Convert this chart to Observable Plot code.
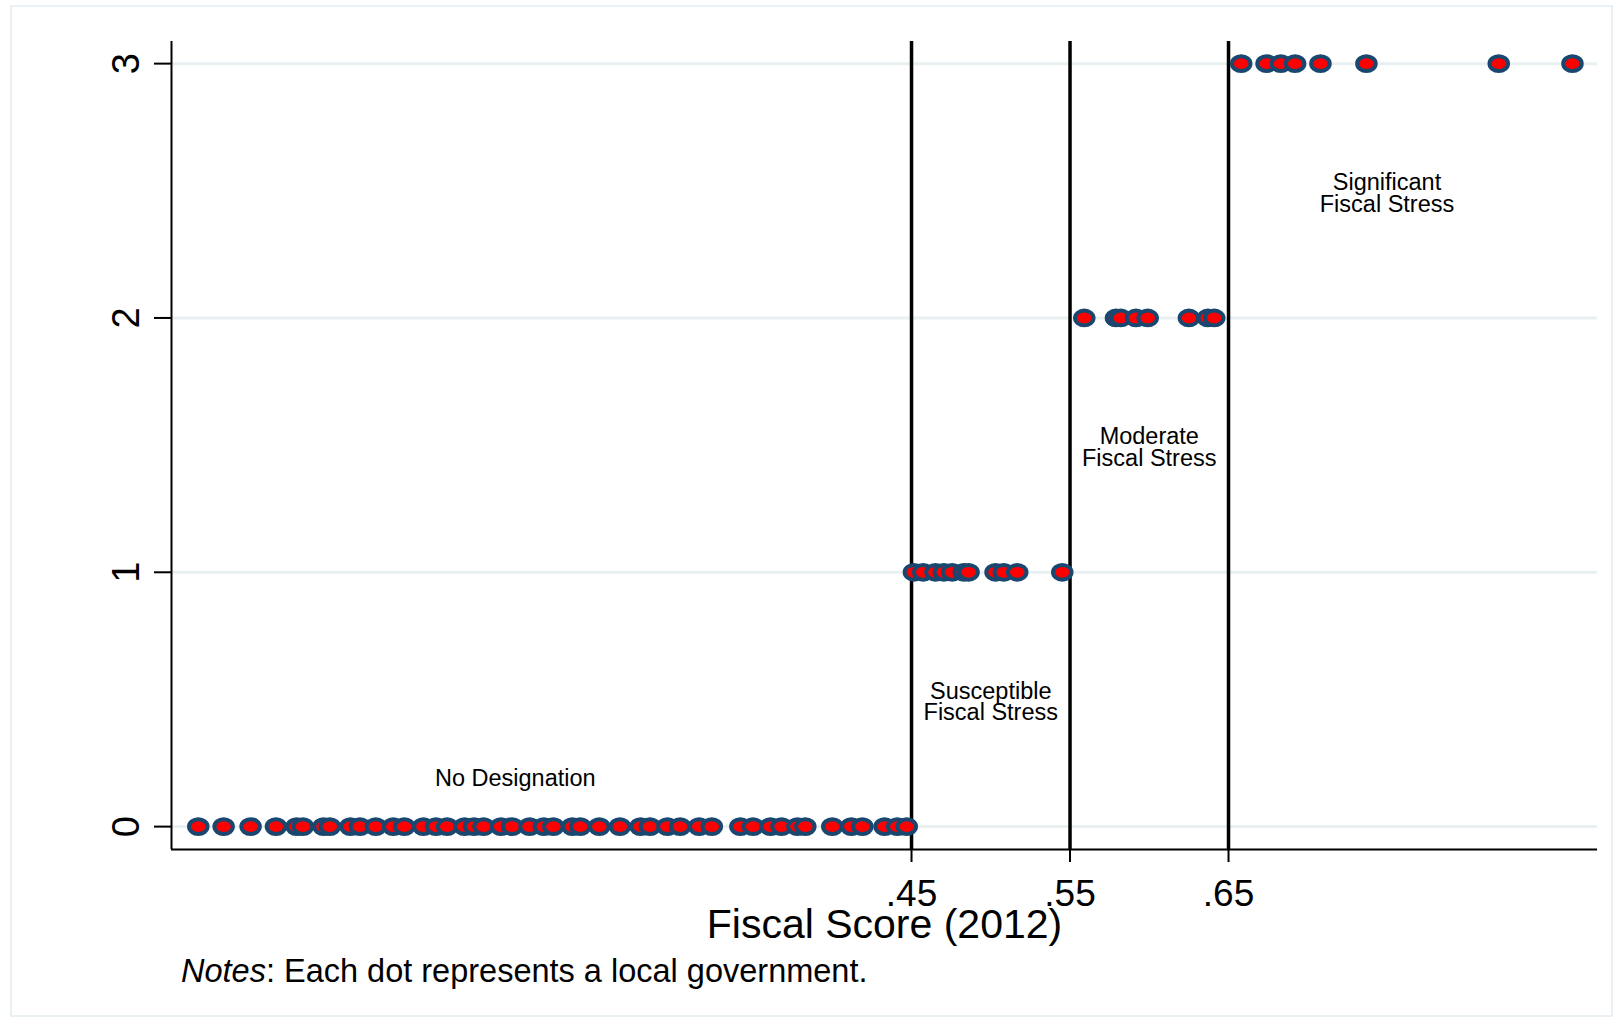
<!DOCTYPE html>
<html>
<head>
<meta charset="utf-8">
<script src="https://cdn.jsdelivr.net/npm/d3@7"></script>
<script src="https://cdn.jsdelivr.net/npm/@observablehq/plot@0.6"></script>
<style>
  body { margin: 0; background: #fff; }
  #page { position: relative; width: 1619px; height: 1021px; font-family: "Liberation Sans", Arial, sans-serif; color: #000; }
  #border { position: absolute; left: 10px; top: 5px; width: 1603px; height: 1012px; border: 2px solid #eaf1f4; box-sizing: border-box; }
  #chart { position: absolute; left: 0; top: 0; }
  #notes { position: absolute; left: 181px; top: 955px; font-size: 32.5px; line-height: 1; white-space: nowrap; }
</style>
</head>
<body>
<div id="page">
  <div id="border"></div>
  <div id="chart"></div>
  <div id="notes"></div>
</div>
<script>
// Fiscal scores (2012) of local governments, grouped by stress designation level
const noDesignationScores = [
  0.000, 0.016, 0.033, 0.049, 0.062, 0.066, 0.079, 0.083, 0.096, 0.102,
  0.112, 0.123, 0.130, 0.142, 0.150, 0.157, 0.168, 0.174, 0.180, 0.191,
  0.198, 0.209, 0.218, 0.224, 0.236, 0.241, 0.253, 0.266, 0.279, 0.285,
  0.296, 0.304, 0.316, 0.324, 0.342, 0.350, 0.361, 0.368, 0.378, 0.383,
  0.400, 0.412, 0.419, 0.433, 0.441, 0.447
];
const susceptibleScores = [0.4515, 0.4574, 0.4651, 0.4704, 0.4757, 0.483, 0.486, 0.503, 0.5082, 0.5167, 0.5451];
const moderateScores = [0.559, 0.579, 0.582, 0.5916, 0.599, 0.625, 0.637, 0.641];
const significantScores = [0.658, 0.674, 0.683, 0.692, 0.708, 0.737, 0.8205, 0.867];

const designationLevels = [0, 1, 2, 3];
const thresholds = [0.45, 0.55, 0.65];
const xTickLabels = [".45", ".55", ".65"];

const zoneLabels = ["No Designation", "Susceptible\nFiscal Stress", "Moderate\nFiscal Stress", "Significant\nFiscal Stress"];
const zoneLabelX = [0.20, 0.50, 0.60, 0.75];
const zoneLabelY = [0.2, 0.5, 1.5, 2.5];

const xTitle = "Fiscal Score (2012)";
const noteLead = "Notes";
const noteText = ": Each dot represents a local government.";

// Build the tables used by the marks
const groups = [noDesignationScores, susceptibleScores, moderateScores, significantScores];
const governments = groups.flatMap((scores, level) =>
  scores.map(score => ({score, designation: designationLevels[level]}))
);
const zones = zoneLabels.map((text, i) => ({text, x: zoneLabelX[i], y: zoneLabelY[i]}));

// Slightly flattened ellipse marker
const ellipse = {
  draw(context, size) {
    const r = Math.sqrt(size / Math.PI);
    const rx = r * 1.25, ry = r, k = 0.5522847498;
    context.moveTo(rx, 0);
    context.bezierCurveTo(rx, ry * k, rx * k, ry, 0, ry);
    context.bezierCurveTo(-rx * k, ry, -rx, ry * k, -rx, 0);
    context.bezierCurveTo(-rx, -ry * k, -rx * k, -ry, 0, -ry);
    context.bezierCurveTo(rx * k, -ry, rx, -ry * k, rx, 0);
    context.closePath();
  }
};

const xDomain = [-0.0169, 0.8828];
const yDomain = [-0.09, 3.087];

const chart = Plot.plot({
  width: 1619,
  height: 950,
  marginLeft: 171,
  marginRight: 22,
  marginTop: 41,
  marginBottom: 101,
  style: {fontFamily: "'Liberation Sans', Arial, sans-serif", color: "#000", background: "transparent", overflow: "visible"},
  x: {domain: xDomain},
  y: {domain: yDomain},
  marks: [
    Plot.ruleY(designationLevels, {y: d => d, stroke: "#e8f0f2", strokeWidth: 3}),
    Plot.ruleX(thresholds, {x: d => d, stroke: "#000", strokeWidth: 3.5}),
    Plot.dot(governments, {
      x: "score", y: "designation", symbol: ellipse, r: 7.4,
      fill: "#ff0000", stroke: "#1a476f", strokeWidth: 4
    }),
    Plot.ruleX([xDomain[0]], {stroke: "#000", strokeWidth: 2}),
    Plot.ruleY([yDomain[0]], {stroke: "#000", strokeWidth: 2}),
    Plot.axisX({
      ticks: thresholds, tickFormat: (d, i) => xTickLabels[i],
      tickSize: 13, tickPadding: 17, fontSize: 37, strokeWidth: 2, label: null
    }),
    Plot.axisY({
      ticks: designationLevels, tickFormat: d3.format("d"),
      tickSize: 17, tickPadding: 16, tickRotate: -90, fontSize: 38, strokeWidth: 2, label: null
    }),
    Plot.text(zones, {x: "x", y: "y", text: "text", fontSize: 23.5, lineHeight: 0.92, dy: 3, fill: "#000"}),
    Plot.text([xTitle], {frameAnchor: "bottom", dy: 88, lineAnchor: "bottom", fontSize: 41, fill: "#000"})
  ]
});

document.getElementById("chart").append(chart);

const notes = document.getElementById("notes");
const lead = document.createElement("i");
lead.textContent = noteLead;
notes.append(lead, document.createTextNode(noteText));
</script>
</body>
</html>
